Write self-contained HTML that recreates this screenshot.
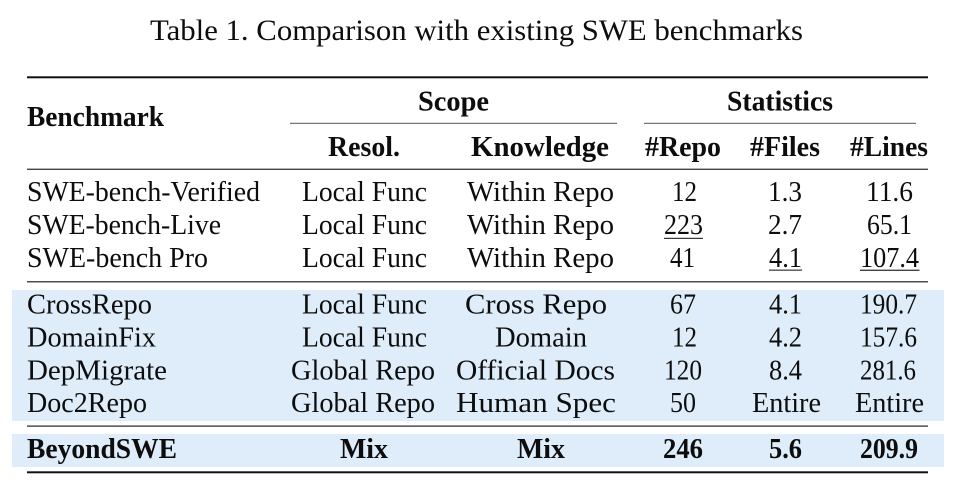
<!DOCTYPE html>
<html><head><meta charset="utf-8"><style>
html,body{margin:0;padding:0;background:#fff;}
svg{display:block;}
text{font-family:"Liberation Serif",serif;fill:#0d0d0d;}
.b{font-weight:bold;}
</style></head><body>
<svg width="960" height="483" viewBox="0 0 960 483" xmlns="http://www.w3.org/2000/svg">
<rect x="0" y="0" width="960" height="483" fill="#fff"/>
<text x="150" y="40" font-size="30" textLength="653" lengthAdjust="spacingAndGlyphs">Table 1. Comparison with existing SWE benchmarks</text>

<rect x="12" y="290" width="932" height="131" fill="#deedf9"/>
<rect x="12" y="434" width="932" height="33" fill="#deedf9"/>

<rect x="27" y="76.3" width="901" height="2" fill="#111"/>
<rect x="290" y="122.8" width="327" height="1" fill="#555"/>
<rect x="644" y="122.8" width="272" height="1" fill="#555"/>
<rect x="27" y="168.6" width="901" height="1.4" fill="#444"/>
<rect x="27" y="281.2" width="901" height="1.2" fill="#222"/>
<rect x="27" y="425.5" width="901" height="1.2" fill="#222"/>
<rect x="27" y="471.3" width="901" height="2" fill="#111"/>

<g font-size="28.5">
<text class="b" x="27" y="126" textLength="137" lengthAdjust="spacingAndGlyphs">Benchmark</text>
<text class="b" x="418" y="110.5" textLength="71" lengthAdjust="spacingAndGlyphs">Scope</text>
<text class="b" x="727" y="110.5" textLength="106" lengthAdjust="spacingAndGlyphs">Statistics</text>
<text class="b" x="328" y="156" textLength="72" lengthAdjust="spacingAndGlyphs">Resol.</text>
<text class="b" x="471" y="156" textLength="138" lengthAdjust="spacingAndGlyphs">Knowledge</text>
<text class="b" x="645" y="156" textLength="76" lengthAdjust="spacingAndGlyphs">#Repo</text>
<text class="b" x="750" y="156" textLength="70" lengthAdjust="spacingAndGlyphs">#Files</text>
<text class="b" x="850" y="156" textLength="78" lengthAdjust="spacingAndGlyphs">#Lines</text>

<text x="27" y="201" textLength="233" lengthAdjust="spacingAndGlyphs">SWE-bench-Verified</text>
<text x="302" y="201" textLength="125" lengthAdjust="spacingAndGlyphs">Local Func</text>
<text x="467" y="201" textLength="147" lengthAdjust="spacingAndGlyphs">Within Repo</text>
<text x="672" y="201" textLength="25" lengthAdjust="spacingAndGlyphs">12</text>
<text x="768" y="201" textLength="34" lengthAdjust="spacingAndGlyphs">1.3</text>
<text x="866" y="201" textLength="47" lengthAdjust="spacingAndGlyphs">11.6</text>

<text x="27" y="234" textLength="194" lengthAdjust="spacingAndGlyphs">SWE-bench-Live</text>
<text x="302" y="234" textLength="125" lengthAdjust="spacingAndGlyphs">Local Func</text>
<text x="467" y="234" textLength="147" lengthAdjust="spacingAndGlyphs">Within Repo</text>
<text x="664" y="234" textLength="39" lengthAdjust="spacingAndGlyphs">223</text>
<text x="768" y="234" textLength="34" lengthAdjust="spacingAndGlyphs">2.7</text>
<text x="867" y="234" textLength="45" lengthAdjust="spacingAndGlyphs">65.1</text>

<text x="27" y="267" textLength="181" lengthAdjust="spacingAndGlyphs">SWE-bench Pro</text>
<text x="302" y="267" textLength="125" lengthAdjust="spacingAndGlyphs">Local Func</text>
<text x="467" y="267" textLength="147" lengthAdjust="spacingAndGlyphs">Within Repo</text>
<text x="670" y="267" textLength="25" lengthAdjust="spacingAndGlyphs">41</text>
<text x="769" y="267" textLength="33" lengthAdjust="spacingAndGlyphs">4.1</text>
<text x="860" y="267" textLength="59" lengthAdjust="spacingAndGlyphs">107.4</text>

<text x="27" y="313.5" textLength="125" lengthAdjust="spacingAndGlyphs">CrossRepo</text>
<text x="302" y="313.5" textLength="125" lengthAdjust="spacingAndGlyphs">Local Func</text>
<text x="465" y="313.5" textLength="142" lengthAdjust="spacingAndGlyphs">Cross Repo</text>
<text x="670" y="313.5" textLength="26" lengthAdjust="spacingAndGlyphs">67</text>
<text x="769" y="313.5" textLength="33" lengthAdjust="spacingAndGlyphs">4.1</text>
<text x="860" y="313.5" textLength="57" lengthAdjust="spacingAndGlyphs">190.7</text>

<text x="27" y="346.5" textLength="129" lengthAdjust="spacingAndGlyphs">DomainFix</text>
<text x="302" y="346.5" textLength="125" lengthAdjust="spacingAndGlyphs">Local Func</text>
<text x="495" y="346.5" textLength="92" lengthAdjust="spacingAndGlyphs">Domain</text>
<text x="672" y="346.5" textLength="25" lengthAdjust="spacingAndGlyphs">12</text>
<text x="769" y="346.5" textLength="33" lengthAdjust="spacingAndGlyphs">4.2</text>
<text x="860" y="346.5" textLength="57" lengthAdjust="spacingAndGlyphs">157.6</text>

<text x="27" y="379.5" textLength="140" lengthAdjust="spacingAndGlyphs">DepMigrate</text>
<text x="291" y="379.5" textLength="144" lengthAdjust="spacingAndGlyphs">Global Repo</text>
<text x="456" y="379.5" textLength="159" lengthAdjust="spacingAndGlyphs">Official Docs</text>
<text x="664" y="379.5" textLength="38" lengthAdjust="spacingAndGlyphs">120</text>
<text x="769" y="379.5" textLength="33" lengthAdjust="spacingAndGlyphs">8.4</text>
<text x="860" y="379.5" textLength="56" lengthAdjust="spacingAndGlyphs">281.6</text>

<text x="27" y="412" textLength="120" lengthAdjust="spacingAndGlyphs">Doc2Repo</text>
<text x="291" y="412" textLength="144" lengthAdjust="spacingAndGlyphs">Global Repo</text>
<text x="456" y="412" textLength="160" lengthAdjust="spacingAndGlyphs">Human Spec</text>
<text x="670" y="412" textLength="26" lengthAdjust="spacingAndGlyphs">50</text>
<text x="752" y="412" textLength="69" lengthAdjust="spacingAndGlyphs">Entire</text>
<text x="855" y="412" textLength="69" lengthAdjust="spacingAndGlyphs">Entire</text>

<text class="b" x="27" y="458" textLength="150" lengthAdjust="spacingAndGlyphs">BeyondSWE</text>
<text class="b" x="340" y="458" textLength="48" lengthAdjust="spacingAndGlyphs">Mix</text>
<text class="b" x="517" y="458" textLength="48" lengthAdjust="spacingAndGlyphs">Mix</text>
<text class="b" x="663" y="458" textLength="40" lengthAdjust="spacingAndGlyphs">246</text>
<text class="b" x="769" y="458" textLength="33" lengthAdjust="spacingAndGlyphs">5.6</text>
<text class="b" x="860" y="458" textLength="58" lengthAdjust="spacingAndGlyphs">209.9</text>
</g>

<rect x="664" y="237.8" width="39" height="1.1" fill="#222"/>
<rect x="769" y="269.6" width="33" height="1.1" fill="#222"/>
<rect x="860" y="269.6" width="59.5" height="1.4" fill="#444"/>
</svg>
</body></html>
